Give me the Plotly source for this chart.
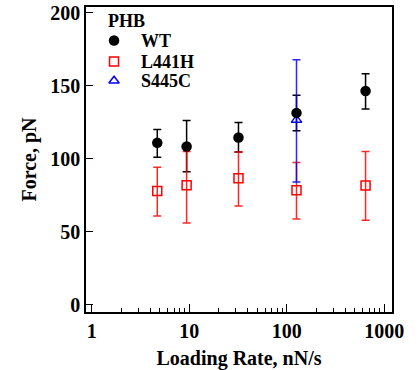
import plotly.graph_objects as go

rate_wt = [4.7, 9.4, 32, 126, 644]
force_wt = [111, 108.5, 114.7, 131.5, 146.5]
err_wt_plus = [9.2, 17.8, 10.3, 12.1, 11.8]
err_wt_minus = [9.8, 17.3, 9.9, 12.3, 12.3]

rate_l = [4.7, 9.4, 32, 126, 644]
force_l = [78, 82, 86.8, 78.6, 81.8]
err_l_plus = [16.3, 23, 18, 18.9, 23.2]
err_l_minus = [17, 25.8, 19, 19.7, 23.8]

rate_s = [126]
force_s = [126.7]
err_s_plus = [41.2]
err_s_minus = [42.5]

legend_title = "PHB"
legend_names = ["WT", "L441H", "S445C"]

font = "Liberation Serif, Times New Roman, serif"

sym_wt = dict(symbol="circle", size=10.5, color="black")
sym_l = dict(symbol="square-open", size=9, color="red", line=dict(width=1.5, color="red"))
sym_s = dict(symbol="triangle-up-open", size=9, color="blue", line=dict(width=1.5, color="blue"))

fig = go.Figure()
fig.add_trace(go.Scatter(
    x=rate_wt, y=force_wt, mode="markers",
    marker=dict(size=10, color="rgba(0,0,0,0)"),
    error_y=dict(type="data", array=err_wt_plus, arrayminus=err_wt_minus,
                 color="black", thickness=1.5, width=4),
    showlegend=False, hoverinfo="skip"))
fig.add_trace(go.Scatter(
    x=rate_l, y=force_l, mode="markers", name="L441H", marker=sym_l,
    error_y=dict(type="data", array=err_l_plus, arrayminus=err_l_minus,
                 color="rgba(255,0,0,0.85)", thickness=1.5, width=4),
    showlegend=False))
fig.add_trace(go.Scatter(
    x=rate_s, y=force_s, mode="markers", name="S445C", marker=sym_s,
    error_y=dict(type="data", array=err_s_plus, arrayminus=err_s_minus,
                 color="rgba(0,0,255,0.85)", thickness=1.5, width=4),
    showlegend=False))
fig.add_trace(go.Scatter(
    x=rate_wt, y=force_wt, mode="markers", name="WT", marker=sym_wt,
    showlegend=False))

# legend (drawn in plot-area fraction coordinates on an overlay axis)
leg_x_sym = 0.0916
leg_x_txt = 0.173
leg_y = [0.890, 0.821, 0.758]
for sym, yy in zip([sym_wt, sym_l, sym_s], leg_y):
    fig.add_trace(go.Scatter(x=[leg_x_sym], y=[yy], xaxis="x2", yaxis="y2",
                             mode="markers", marker=sym, showlegend=False, hoverinfo="skip"))
annotations = [dict(text="<b>" + legend_title + "</b>", x=0.065, y=0.955, xref="paper", yref="paper",
                    xanchor="left", yanchor="middle", showarrow=False,
                    font=dict(family=font, size=18, color="black"))]
for name, yy in zip(legend_names, leg_y):
    annotations.append(dict(text="<b>" + name + "</b>", x=leg_x_txt, y=yy, xref="paper", yref="paper",
                            xanchor="left", yanchor="middle", showarrow=False,
                            font=dict(family=font, size=18, color="black")))

minor_vals = [m * 10 ** e for e in range(0, 3) for m in range(2, 10)]

fig.update_layout(
    width=419, height=370,
    margin=dict(l=86, r=27, t=7, b=58),
    paper_bgcolor="white", plot_bgcolor="white",
    font=dict(family=font, size=18, color="black"),
    showlegend=False,
    annotations=annotations,
    xaxis=dict(
        type="log", range=[-0.059, 3.08], automargin=False,
        tickvals=[1, 10, 100, 1000], ticktext=["<b>1</b>", "<b>10</b>", "<b>100</b>", "<b>1000</b>"],
        ticks="inside", ticklen=8, tickwidth=1.2, tickcolor="black",
        minor=dict(ticks="inside", ticklen=4, tickwidth=1.2, tickcolor="black", tickvals=minor_vals),
        showline=True, linecolor="black", linewidth=1.5, mirror=True,
        showgrid=False, zeroline=False,
        title=dict(text="<b>Loading Rate, nN/s</b>", font=dict(family=font, size=20), standoff=11),
        tickfont=dict(family=font, size=20)),
    yaxis=dict(
        range=[-4.8, 204], automargin=False,
        tickvals=[0, 50, 100, 150, 200], ticktext=["<b>0</b>", "<b>50</b>", "<b>100</b>", "<b>150</b>", "<b>200</b>"],
        ticks="inside", ticklen=7, tickwidth=1.2, tickcolor="black",
        showline=True, linecolor="black", linewidth=1.5, mirror=True,
        showgrid=False, zeroline=False,
        title=dict(text="<b>Force, pN</b>", font=dict(family=font, size=20), standoff=8),
        tickfont=dict(family=font, size=20)),
    xaxis2=dict(overlaying="x", range=[0, 1], visible=False, fixedrange=True),
    yaxis2=dict(overlaying="y", range=[0, 1], visible=False, fixedrange=True),
)

fig.write_html("out.html", config={"displayModeBar": False},
               post_script="document.body.style.margin='0';document.body.style.padding='0';")
